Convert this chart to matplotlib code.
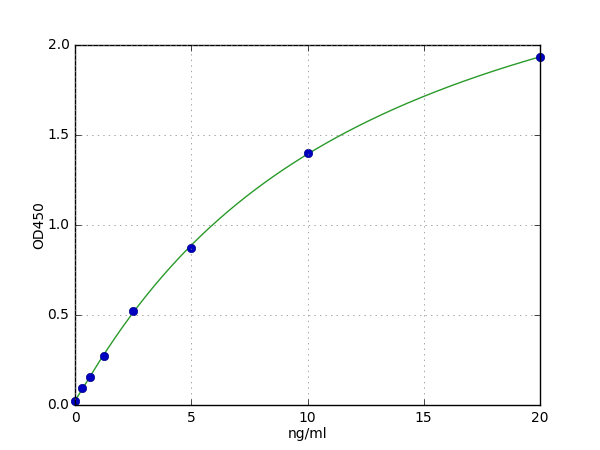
import numpy as np
import matplotlib
matplotlib.use("Agg")
import matplotlib.pyplot as plt

plt.style.use("classic")

# standard concentrations (ng/ml) and measured OD450
conc = [0, 0.3125, 0.625, 1.25, 2.5, 5, 10, 20]
od = [0.024, 0.096, 0.154, 0.274, 0.524, 0.872, 1.40, 1.935]

# four parameter logistic fit, brute force over slope/midpoint,
# the two asymptotes come out of a linear least squares
x = np.array(conc)
y = np.array(od)
best = None
for b in np.linspace(0.5, 2.0, 61):
    for c in np.linspace(2, 80, 157):
        g = 1.0 / (1.0 + (x / c) ** b)
        A = np.column_stack([g, 1 - g])
        sol, res, _, _ = np.linalg.lstsq(A, y, rcond=None)
        err = np.sum((A @ sol - y) ** 2)
        if best is None or err < best[0]:
            best = (err, b, c, sol)
_, b, c, (a, d) = best

xfit = np.linspace(0, 20, 300)
yfit = d + (a - d) / (1.0 + (xfit / c) ** b)

fig = plt.figure(figsize=(6, 4.5), dpi=100)
ax = fig.add_axes([0.125, 0.1, 0.775, 0.8])
ax.plot(xfit, yfit, color="#2a9a2a", linewidth=1)
ax.plot(conc, od, "o", color="#0000c0", markeredgecolor="#00008b", markersize=6, clip_on=False)

ax.set_xlim(0, 20)
ax.set_ylim(0, 2.0)
ax.set_xticks([0, 5, 10, 15, 20])
ax.set_yticks([0.0, 0.5, 1.0, 1.5, 2.0])
ax.grid(True, linestyle=":", color="#808080")
ax.set_xlabel("ng/ml", fontsize=10, labelpad=2)
ax.set_ylabel("OD450", fontsize=10, labelpad=1)
ax.tick_params(labelsize=10)

fig.savefig("out.png", dpi=100)
